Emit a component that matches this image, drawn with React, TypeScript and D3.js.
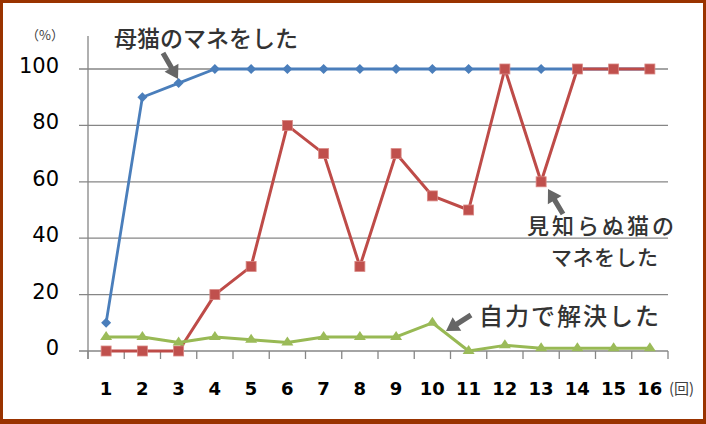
import * as d3 from 'd3'

const ROUNDS = ['1', '2', '3', '4', '5', '6', '7', '8', '9', '10', '11', '12', '13', '14', '15', '16']
const MOTHER = [10, 90, 95, 100, 100, 100, 100, 100, 100, 100, 100, 100, 100, 100, 100, 100]
const STRANGER = [0, 0, 0, 20, 30, 80, 70, 30, 70, 55, 50, 100, 60, 100, 100, 100]
const SELF = [5, 5, 3, 5, 4, 3, 5, 5, 5, 10, 0, 2, 1, 1, 1, 1]
const Y_TICKS = [0, 20, 40, 60, 80, 100]

const W = 706
const H = 424
const JP = '"Noto Sans CJK JP", sans-serif'

const x = d3.scaleBand<string>().domain(ROUNDS).range([88, 668]).padding(0)
const y = d3.scaleLinear().domain([0, 100]).range([351, 69])
const cx = (i: number) => (x(ROUNDS[i]) ?? 0) + x.bandwidth() / 2
const line = d3.line<number>().x((_, i) => cx(i)).y((d) => y(d))

// thick arrow from tail to tip
function arrow(x1: number, y1: number, x2: number, y2: number) {
  const dx = x2 - x1, dy = y2 - y1
  const len = Math.hypot(dx, dy)
  const ux = dx / len, uy = dy / len
  const px = -uy, py = ux
  const hl = 13, hw = 8, sw = 2.6
  const bx = x2 - ux * hl, by = y2 - uy * hl
  const pts = [
    [x1 + px * sw, y1 + py * sw],
    [bx + px * sw, by + py * sw],
    [bx + px * hw, by + py * hw],
    [x2, y2],
    [bx - px * hw, by - py * hw],
    [bx - px * sw, by - py * sw],
    [x1 - px * sw, y1 - py * sw],
  ]
  return <polygon points={pts.map((p) => p.join(',')).join(' ')} fill="#666" />
}

export default function App() {
  const ticks = d3.range(ROUNDS.length + 1).map((k) => 88 + k * x.bandwidth())
  return (
    <svg width={W} height={H} style={{ position: 'absolute', left: 0, top: 0 }}>
      <rect width={W} height={H} fill="#993300" />
      <rect x={3} y={3} width={700} height={416} fill="#fff" />

      {/* grid */}
      {Y_TICKS.map((t) => (
        <line key={t} x1={79} x2={668} y1={y(t)} y2={y(t)} stroke="#868686" strokeWidth={1.3} />
      ))}
      <line x1={88} x2={88} y1={36} y2={359} stroke="#868686" strokeWidth={1.3} />
      {ticks.map((t, k) => (
        <line key={k} x1={t} x2={t} y1={351} y2={359} stroke="#868686" strokeWidth={1.3} />
      ))}

      {/* y labels */}
      {Y_TICKS.map((t) => (
        <text key={t} x={59} y={y(t) + 4} textAnchor="end" fontFamily="DejaVu Sans, Verdana, sans-serif" fontSize={21} fill="#000">
          {t}
        </text>
      ))}
      <text x={45} y={40} textAnchor="middle" fontFamily={JP} fontSize={13} fill="#404040">（%）</text>

      {/* x labels */}
      {ROUNDS.map((r, i) => (
        <text key={r} x={cx(i)} y={395} textAnchor="middle" fontFamily="DejaVu Sans, Verdana, sans-serif" fontWeight="bold" fontSize={18} fill="#000">
          {r}
        </text>
      ))}
      <text x={669} y={394} fontFamily={JP} fontSize={15} fill="#404040">(回)</text>

      {/* mother */}
      <path d={line(MOTHER) ?? ''} fill="none" stroke="#4A7EBB" strokeWidth={2.8} strokeLinejoin="round" />
      {MOTHER.map((d, i) => (
        <path key={i} d={`M${cx(i)},${y(d) - 5}l5,5l-5,5l-5,-5z`} fill="#4A7EBB" />
      ))}

      {/* stranger */}
      <path d={line(STRANGER) ?? ''} fill="none" stroke="#BE4B48" strokeWidth={3} strokeLinejoin="round" />
      {STRANGER.map((d, i) => (
        <rect key={i} x={cx(i) - 5} y={y(d) - 5} width={10} height={10} fill="#C0504D" stroke="#D98884" strokeWidth={0.8} />
      ))}

      {/* self */}
      <path d={line(SELF) ?? ''} fill="none" stroke="#98B954" strokeWidth={3} strokeLinejoin="round" />
      {SELF.map((d, i) => (
        <path key={i} d={`M${cx(i)},${y(d) - 6}l6,9h-12z`} fill="#9BBB59" />
      ))}

      {/* annotations */}
      {arrow(163, 53, 178, 79)}
      {arrow(563, 214, 548, 189)}
      {arrow(471, 315, 446, 331)}
      <text x={114} y={47} fontFamily={JP} fontSize={23} fontWeight={500} fill="#333">母猫のマネをした</text>
      <text x={527} y={234} fontFamily={JP} fontSize={22} fontWeight={500} letterSpacing={3} fill="#333">見知らぬ猫の</text>
      <text x={551} y={265} fontFamily={JP} fontSize={21} fontWeight={500} letterSpacing={0.5} fill="#333">マネをした</text>
      <text x={479} y={325} fontFamily={JP} fontSize={24} fontWeight={500} letterSpacing={2} fill="#333">自力で解決した</text>
    </svg>
  )
}
